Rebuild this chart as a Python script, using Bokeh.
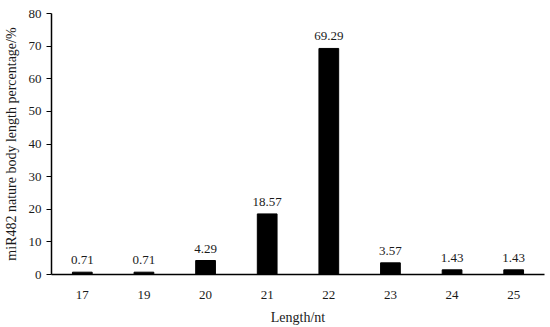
from bokeh.plotting import figure
from bokeh.models import ColumnDataSource, Range1d, FixedTicker
from bokeh.embed import file_html
from bokeh.resources import INLINE
from bokeh.core.properties import value

lengths = ["17", "19", "20", "21", "22", "23", "24", "25"]
percent = [0.71, 0.71, 4.29, 18.57, 69.29, 3.57, 1.43, 1.43]
labels = ["0.71", "0.71", "4.29", "18.57", "69.29", "3.57", "1.43", "1.43"]

FONT = "Liberation Serif"
TXT = "#1a1a1a"

src = ColumnDataSource(dict(x=lengths, y=percent, lab=labels))

p = figure(x_range=lengths, y_range=Range1d(0, 80), width=550, height=327,
           output_backend="svg", toolbar_location=None,
           min_border_left=51, min_border_right=6, min_border_top=13, min_border_bottom=51)
p.outline_line_color = None
p.xgrid.grid_line_color = None
p.ygrid.grid_line_color = None
p.x_range.range_padding = 0

p.vbar(x="x", top="y", width=0.32, color="black", source=src)
p.text(x="x", y="y", text="lab", source=src, text_align="center", text_baseline="bottom",
       y_offset=-8, text_font=value(FONT), text_font_size="13px", text_color=TXT)

p.yaxis.ticker = FixedTicker(ticks=list(range(0, 81, 10)))
p.yaxis.minor_tick_line_color = None
p.yaxis.major_tick_in = 0
p.yaxis.major_tick_out = 5
p.yaxis.major_label_standoff = 5
p.yaxis.axis_label = "miR482 nature body length percentage/%"
p.xaxis.axis_label = "Length/nt"
p.xaxis.major_tick_line_color = None
p.xaxis.minor_tick_line_color = None
p.xaxis.major_label_standoff = 10

for ax in (p.xaxis, p.yaxis):
    ax.axis_line_color = "black"
    ax.axis_line_width = 1.5
    ax.major_label_text_font = FONT
    ax.major_label_text_font_size = "13px"
    ax.major_label_text_color = TXT
    ax.axis_label_text_font = FONT
    ax.axis_label_text_font_size = "14px"
    ax.axis_label_text_font_style = "normal"
    ax.axis_label_text_color = TXT
p.yaxis.axis_label_standoff = 7
p.xaxis.axis_label_standoff = 8

open("out.html", "w").write(file_html(p, INLINE))
